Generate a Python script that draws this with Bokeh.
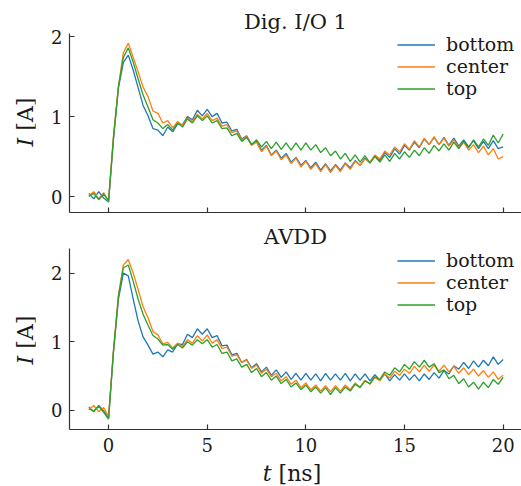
import numpy as np
from bokeh.plotting import figure
from bokeh.layouts import column, row
from bokeh.models import Range1d, FixedTicker, Legend, LegendItem, Div
from bokeh.embed import file_html
from bokeh.resources import INLINE

# ---------------- data ----------------
t_ns = [-1.0, -0.75, -0.5, -0.25, 0.0, 0.25, 0.5, 0.75, 1.0, 1.25, 1.5, 1.75,
        2.0, 2.25, 2.5, 2.75, 3.0, 3.25, 3.5, 3.75, 4.0, 4.25, 4.5, 4.75,
        5.0, 5.25, 5.5, 5.75, 6.0, 6.25, 6.5, 6.75, 7.0, 7.25, 7.5, 7.75,
        8.0, 8.25, 8.5, 8.75, 9.0, 9.25, 9.5, 9.75, 10.0, 10.25, 10.5, 10.75,
        11.0, 11.25, 11.5, 11.75, 12.0, 12.25, 12.5, 12.75, 13.0, 13.25, 13.5, 13.75,
        14.0, 14.25, 14.5, 14.75, 15.0, 15.25, 15.5, 15.75, 16.0, 16.25, 16.5, 16.75,
        17.0, 17.25, 17.5, 17.75, 18.0, 18.25, 18.5, 18.75, 19.0, 19.25, 19.5, 19.75, 20.0]

series_names = ["bottom", "center", "top"]
series_colors = ["#1f77b4", "#ff7f0e", "#2ca02c"]

# Dig. I/O 1
dio_bottom = [0.04, -0.03, 0.06, -0.02, -0.07, 0.72, 1.36, 1.68, 1.77, 1.58, 1.36, 1.14,
              1.01, 0.85, 0.83, 0.76, 0.87, 0.81, 0.91, 0.90, 1.00, 0.96, 1.08, 1.01,
              1.09, 1.00, 1.04, 0.92, 0.93, 0.82, 0.84, 0.72, 0.76, 0.65, 0.69, 0.58,
              0.64, 0.52, 0.58, 0.48, 0.54, 0.43, 0.49, 0.39, 0.45, 0.36, 0.43, 0.33,
              0.41, 0.32, 0.40, 0.33, 0.42, 0.36, 0.45, 0.39, 0.48, 0.42, 0.51, 0.45,
              0.55, 0.49, 0.60, 0.53, 0.64, 0.58, 0.68, 0.61, 0.72, 0.65, 0.74, 0.65,
              0.74, 0.64, 0.73, 0.63, 0.71, 0.62, 0.70, 0.60, 0.69, 0.60, 0.70, 0.60, 0.62]
dio_center = [0.01, 0.06, -0.03, 0.05, -0.06, 0.76, 1.38, 1.80, 1.92, 1.74, 1.56, 1.37,
              1.25, 1.07, 1.04, 0.92, 0.95, 0.86, 0.94, 0.89, 0.98, 0.94, 1.03, 0.97,
              1.04, 0.95, 0.98, 0.88, 0.90, 0.80, 0.82, 0.71, 0.75, 0.64, 0.68, 0.56,
              0.63, 0.51, 0.57, 0.46, 0.52, 0.41, 0.48, 0.37, 0.44, 0.34, 0.41, 0.31,
              0.40, 0.30, 0.39, 0.31, 0.41, 0.34, 0.44, 0.39, 0.47, 0.43, 0.52, 0.47,
              0.57, 0.52, 0.62, 0.56, 0.66, 0.59, 0.70, 0.62, 0.73, 0.65, 0.75, 0.65,
              0.73, 0.63, 0.71, 0.61, 0.68, 0.58, 0.65, 0.55, 0.63, 0.52, 0.60, 0.47, 0.50]
dio_top = [0.00, 0.04, -0.04, 0.03, -0.05, 0.74, 1.37, 1.74, 1.86, 1.68, 1.47, 1.27,
           1.12, 0.96, 0.92, 0.85, 0.90, 0.83, 0.92, 0.87, 0.97, 0.92, 1.01, 0.95,
           1.01, 0.92, 0.95, 0.85, 0.86, 0.76, 0.79, 0.69, 0.74, 0.65, 0.71, 0.62,
           0.69, 0.60, 0.68, 0.59, 0.67, 0.58, 0.67, 0.58, 0.67, 0.58, 0.65, 0.55,
           0.61, 0.51, 0.57, 0.47, 0.54, 0.44, 0.52, 0.43, 0.51, 0.42, 0.50, 0.43,
           0.52, 0.44, 0.54, 0.47, 0.56, 0.49, 0.58, 0.51, 0.61, 0.54, 0.64, 0.57,
           0.66, 0.58, 0.68, 0.60, 0.69, 0.61, 0.71, 0.62, 0.72, 0.64, 0.77, 0.67, 0.78]

# AVDD
avdd_bottom = [0.05, -0.02, 0.07, -0.01, -0.11, 0.85, 1.62, 2.00, 1.96, 1.62, 1.30, 1.07,
               0.95, 0.82, 0.85, 0.78, 0.88, 0.85, 0.97, 0.96, 1.11, 1.06, 1.19, 1.11,
               1.19, 1.06, 1.09, 0.94, 0.95, 0.81, 0.83, 0.70, 0.74, 0.62, 0.68, 0.56,
               0.63, 0.51, 0.59, 0.48, 0.56, 0.45, 0.54, 0.44, 0.54, 0.44, 0.53, 0.43,
               0.54, 0.44, 0.53, 0.44, 0.54, 0.43, 0.53, 0.44, 0.53, 0.43, 0.52, 0.44,
               0.53, 0.43, 0.52, 0.44, 0.53, 0.44, 0.52, 0.43, 0.53, 0.45, 0.55, 0.47,
               0.58, 0.53, 0.65, 0.60, 0.70, 0.61, 0.72, 0.63, 0.73, 0.65, 0.78, 0.67, 0.74]
avdd_center = [0.01, 0.07, -0.02, 0.04, -0.09, 0.88, 1.68, 2.12, 2.20, 2.00, 1.76, 1.51,
               1.35, 1.15, 1.10, 0.97, 0.99, 0.91, 0.98, 0.93, 1.03, 0.98, 1.09, 1.01,
               1.10, 0.98, 1.03, 0.90, 0.92, 0.79, 0.81, 0.70, 0.73, 0.61, 0.66, 0.54,
               0.60, 0.49, 0.54, 0.43, 0.49, 0.38, 0.44, 0.33, 0.40, 0.30, 0.37, 0.28,
               0.36, 0.27, 0.36, 0.28, 0.37, 0.30, 0.40, 0.34, 0.44, 0.38, 0.48, 0.43,
               0.53, 0.47, 0.57, 0.51, 0.60, 0.54, 0.64, 0.56, 0.66, 0.57, 0.66, 0.57,
               0.66, 0.56, 0.64, 0.54, 0.62, 0.52, 0.60, 0.50, 0.58, 0.48, 0.56, 0.45, 0.51]
avdd_top = [0.02, -0.01, 0.06, -0.03, -0.13, 0.87, 1.66, 2.08, 2.12, 1.88, 1.62, 1.40,
            1.24, 1.09, 1.04, 0.95, 0.96, 0.89, 0.96, 0.91, 1.00, 0.95, 1.03, 0.97,
            1.03, 0.92, 0.96, 0.83, 0.85, 0.72, 0.75, 0.63, 0.67, 0.55, 0.61, 0.49,
            0.55, 0.44, 0.50, 0.39, 0.45, 0.34, 0.40, 0.30, 0.37, 0.27, 0.34, 0.25,
            0.33, 0.23, 0.33, 0.25, 0.34, 0.28, 0.38, 0.33, 0.43, 0.39, 0.49, 0.45,
            0.56, 0.51, 0.62, 0.56, 0.67, 0.60, 0.71, 0.63, 0.73, 0.63, 0.68, 0.55,
            0.59, 0.46, 0.51, 0.39, 0.46, 0.34, 0.41, 0.31, 0.41, 0.33, 0.45, 0.38, 0.48]

panel_titles = ["Dig. I/O 1", "AVDD"]
x_ticks = [0, 5, 10, 15, 20]
y_ticks = [0, 1, 2]

for arr in (dio_bottom, dio_center, dio_top, avdd_bottom, avdd_center, avdd_top):
    assert len(arr) == len(t_ns)

FONT = "DejaVu Serif"
AX_COLOR = "#333333"
TXT_COLOR = "#1a1a1a"
LEFT_W = 35


def make_panel(title, series, y_range, frame_h, top_b, bottom_b, show_xlabels, legend_y):
    p = figure(frame_width=452, frame_height=frame_h,
               x_range=Range1d(-1.98, 20.93), y_range=Range1d(*y_range),
               output_backend="svg", toolbar_location=None,
               min_border_left=69 - LEFT_W, min_border_right=0,
               min_border_top=top_b, min_border_bottom=bottom_b)
    p.xgrid.visible = False
    p.ygrid.visible = False
    p.outline_line_color = None
    p.background_fill_color = "white"
    p.border_fill_color = "white"

    p.title.text = title
    p.title.align = "center"
    p.title.text_font = FONT
    p.title.text_font_size = "21px"
    p.title.text_font_style = "normal"
    p.title.text_color = TXT_COLOR
    p.title.standoff = 0

    p.xaxis.ticker = FixedTicker(ticks=x_ticks)
    p.yaxis.ticker = FixedTicker(ticks=y_ticks)
    for ax in (p.xaxis[0], p.yaxis[0]):
        ax.major_tick_in = 5
        ax.major_tick_out = 0
        ax.minor_tick_line_color = None
        ax.axis_line_color = AX_COLOR
        ax.axis_line_width = 1.2
        ax.major_tick_line_color = AX_COLOR
        ax.major_tick_line_width = 1.2
        ax.major_label_text_font = FONT
        ax.major_label_text_font_size = "18px"
        ax.major_label_text_color = TXT_COLOR
    p.yaxis.major_label_standoff = 7
    p.xaxis.major_label_standoff = 8
    if not show_xlabels:
        p.xaxis.major_label_text_color = None
        p.xaxis.major_label_text_font_size = "1px"
        p.xaxis.major_label_standoff = 0

    renderers = []
    for name, vals, col in zip(series_names, series, series_colors):
        r = p.line(t_ns, vals, line_color=col, line_width=1.3)
        renderers.append(r)

    legend = Legend(items=[LegendItem(label=n, renderers=[r]) for n, r in zip(series_names, renderers)],
                    location=(328, legend_y), orientation="vertical",
                    border_line_color=None, background_fill_alpha=0,
                    padding=0, margin=0, spacing=0,
                    glyph_width=38, glyph_height=19, label_height=19,
                    label_standoff=11, label_text_font=FONT,
                    label_text_font_size="19px", label_text_color=TXT_COLOR)
    p.add_layout(legend)
    return p


p1 = make_panel(panel_titles[0], [dio_bottom, dio_center, dio_top], (-0.2, 2.04), 179, 33, 8, False, 113)
p2 = make_panel(panel_titles[1], [avdd_bottom, avdd_center, avdd_top], (-0.28, 2.36), 181, 28, 30, True, 114)

lab_style = ("position:absolute;white-space:nowrap;font-family:'DejaVu Serif';"
             "font-size:22px;color:%s;line-height:1;" % TXT_COLOR)
ylab_html = (
    '<div style="position:relative;width:%dpx;height:486px;">' % LEFT_W +
    '<div style="%sleft:26px;top:122px;transform:translate(-50%%,-50%%) rotate(-90deg);">'
    '<i>I</i> [A]</div>' % lab_style +
    '<div style="%sleft:26px;top:340px;transform:translate(-50%%,-50%%) rotate(-90deg);">'
    '<i>I</i> [A]</div>' % lab_style +
    '</div>'
)
ylab_div = Div(text=ylab_html, width=LEFT_W, height=486, margin=0)

xlab_html = (
    '<div style="position:relative;width:486px;height:27px;">'
    '<div style="%sleft:%dpx;top:15px;transform:translate(-50%%,-50%%);">'
    '<i>t</i> [ns]</div></div>' % (lab_style, 292 - LEFT_W)
)
xlab_div = Div(text=xlab_html, width=486, height=27, margin=0)

layout = row(ylab_div, column(p1, p2, xlab_div, spacing=0), spacing=0)
open("out.html", "w").write(file_html(layout, INLINE))
